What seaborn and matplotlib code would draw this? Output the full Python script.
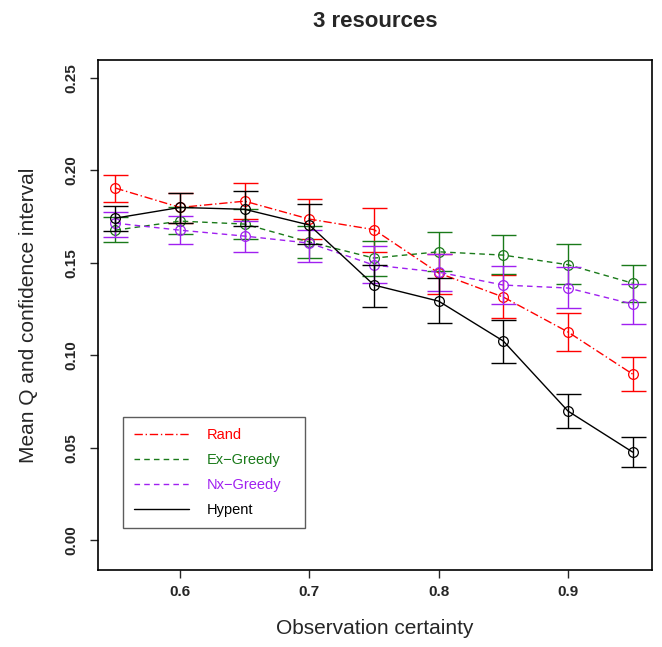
import matplotlib
matplotlib.use("Agg")
import matplotlib.pyplot as plt
import seaborn as sns
import numpy as np
import pandas as pd

sns.set_style("ticks")
plt.rcParams['font.family'] = ['Liberation Sans', 'DejaVu Sans']

certainty = [0.55, 0.6, 0.65, 0.7, 0.75, 0.8, 0.85, 0.9, 0.95]

rand_mean = [0.1905, 0.180, 0.1834, 0.1737, 0.168, 0.1445, 0.1315, 0.1126, 0.0898]
rand_lo   = [0.183, 0.1715, 0.1737, 0.163, 0.156, 0.133, 0.120, 0.1023, 0.0806]
rand_hi   = [0.1975, 0.188, 0.193, 0.1845, 0.1797, 0.155, 0.1434, 0.1228, 0.099]

exg_mean = [0.1677, 0.1726, 0.171, 0.1613, 0.1526, 0.156, 0.1542, 0.149, 0.139]
exg_lo   = [0.1613, 0.1656, 0.163, 0.1526, 0.143, 0.1456, 0.144, 0.1385, 0.129]
exg_hi   = [0.175, 0.180, 0.179, 0.170, 0.162, 0.1667, 0.165, 0.160, 0.149]

nxg_mean = [0.1715, 0.1677, 0.1645, 0.1607, 0.1488, 0.145, 0.138, 0.1364, 0.1277]
nxg_lo   = [0.164, 0.160, 0.156, 0.1505, 0.139, 0.1347, 0.1277, 0.1255, 0.1169]
nxg_hi   = [0.1775, 0.1753, 0.1726, 0.168, 0.159, 0.155, 0.1483, 0.148, 0.1385]

hyp_mean = [0.1742, 0.180, 0.179, 0.1705, 0.138, 0.1293, 0.1077, 0.0698, 0.0476]
hyp_lo   = [0.167, 0.1715, 0.170, 0.160, 0.126, 0.1175, 0.096, 0.0606, 0.0395]
hyp_hi   = [0.181, 0.188, 0.189, 0.182, 0.149, 0.1418, 0.119, 0.079, 0.0557]

series = [
    ("Rand", rand_mean, rand_lo, rand_hi, "#ff0000", (0, (6, 2, 1, 2))),
    ("Ex\u2212Greedy", exg_mean, exg_lo, exg_hi, "#1a7a1a", (0, (4, 3))),
    ("Nx\u2212Greedy", nxg_mean, nxg_lo, nxg_hi, "#a020f0", (0, (4, 3))),
    ("Hypent", hyp_mean, hyp_lo, hyp_hi, "#000000", "-"),
]

fig = plt.figure(figsize=(6.62, 6.47), dpi=100)
ax = fig.add_axes([0.148, 0.119, 0.837, 0.788])

for name, m, lo, hi, col, ls in series:
    df = pd.DataFrame({"x": certainty, "y": m})
    sns.lineplot(data=df, x="x", y="y", ax=ax, color=col, linestyle=ls,
                 linewidth=1.0, marker="o", markersize=7, markerfacecolor="none",
                 markeredgecolor=col, markeredgewidth=0.9, label=name)
    m_arr = np.array(m)
    yerr = np.vstack([m_arr - np.array(lo), np.array(hi) - m_arr])
    ax.errorbar(certainty, m, yerr=yerr, fmt="none", ecolor=col, elinewidth=1.0,
                capsize=9, capthick=1.0)

ax.set_xlim(0.5366, 0.965)
ax.set_ylim(-0.0162, 0.2597)
ax.set_xticks([0.6, 0.7, 0.8, 0.9])
ax.set_xticklabels(["0.6", "0.7", "0.8", "0.9"], fontsize=11, fontweight="bold")
ax.set_yticks([0.0, 0.05, 0.10, 0.15, 0.20, 0.25])
ax.set_yticklabels(["0.00", "0.05", "0.10", "0.15", "0.20", "0.25"], fontsize=11,
                   fontweight="bold", rotation=90, va="center")
ax.tick_params(direction="out", length=6, width=1)
ax.tick_params(axis="x", pad=5)
ax.tick_params(axis="y", pad=8)
for sp in ax.spines.values():
    sp.set_visible(True)
    sp.set_linewidth(1.2)
    sp.set_color("black")

ax.set_xlabel("Observation certainty", fontsize=15, labelpad=14)
ax.set_ylabel("Mean Q and confidence interval", fontsize=15, labelpad=19)
ax.set_title("3 resources", fontsize=16, fontweight="bold", pad=24)

leg = ax.legend(loc="lower left", bbox_to_anchor=(0.0451, 0.0824, 0.3285, 0.213),
                mode="expand", frameon=True,
                fancybox=False, edgecolor="#333333", fontsize=10.5, handlelength=3.8,
                handletextpad=1.2, borderpad=0.75, labelspacing=0.75,
                borderaxespad=0)
leg.get_frame().set_linewidth(1.0)
for h in leg.legend_handles:
    h.set_marker("")
for txt, (_, _, _, _, col, _) in zip(leg.get_texts(), series):
    txt.set_color(col)

fig.savefig("out.png", dpi=100)
